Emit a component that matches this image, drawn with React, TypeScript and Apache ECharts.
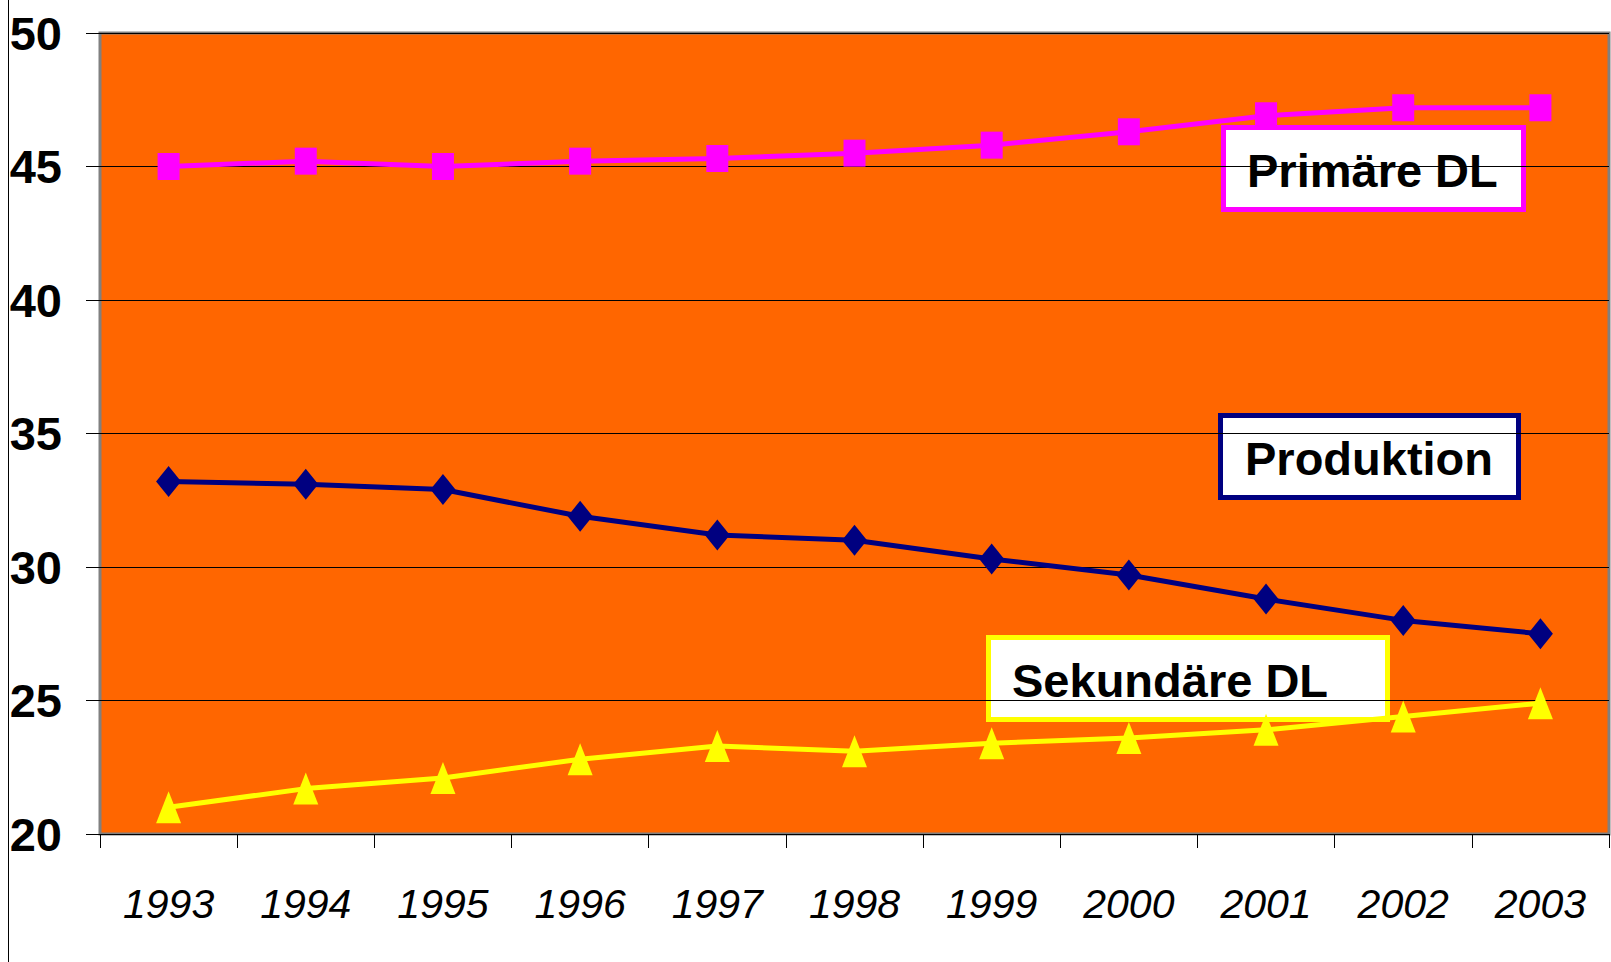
import React, { useEffect, useRef } from "react";
import * as echarts from "echarts";

const years = ["1993", "1994", "1995", "1996", "1997", "1998", "1999", "2000", "2001", "2002", "2003"];
const primaere = [45.0, 45.2, 45.0, 45.2, 45.3, 45.5, 45.8, 46.3, 46.9, 47.2, 47.2];
const produktion = [33.2, 33.1, 32.9, 31.9, 31.2, 31.0, 30.3, 29.7, 28.8, 28.0, 27.5];
const sekundaere = [21.0, 21.7, 22.1, 22.8, 23.3, 23.1, 23.4, 23.6, 23.9, 24.4, 24.9];
const yMin = 20;
const yMax = 50;
const yStep = 5;

const SANS = '"Liberation Sans", Arial, sans-serif';

export default function App() {
  const ref = useRef<HTMLDivElement>(null);
  useEffect(() => {
    if (!ref.current) return;
    const chart = echarts.init(ref.current, undefined, { renderer: "svg" });
    const box = (x: number, y: number, w: number, h: number, color: string, text: string, tx: number) => ({
      type: "group",
      children: [
        { type: "rect", shape: { x, y, width: w, height: h }, style: { fill: "#fff", stroke: color, lineWidth: 5 } },
        {
          type: "text",
          x: tx,
          y: y + h / 2 + 2,
          style: { text, font: `bold 47px ${SANS}`, fill: "#000", verticalAlign: "middle", align: "left" },
        },
      ],
    });
    chart.setOption({
      animation: false,
      backgroundColor: "#fff",
      grid: {
        left: 100,
        right: 2,
        top: 33,
        bottom: 128,
        show: true,
        backgroundColor: "#FF6600",
        borderColor: "#808080",
        borderWidth: 3,
      },
      xAxis: {
        type: "category",
        data: years,
        boundaryGap: true,
        axisLine: { show: false },
        axisTick: { show: true, length: 14, lineStyle: { color: "#000", width: 1 } },
        axisLabel: {
          interval: 0,
          margin: 49,
          color: "#000",
          fontFamily: SANS,
          fontStyle: "italic",
          fontSize: 41,
        },
      },
      yAxis: {
        type: "value",
        min: yMin,
        max: yMax,
        interval: yStep,
        axisLine: { show: false },
        axisTick: { show: true, length: 14, lineStyle: { color: "#000", width: 1 } },
        splitLine: { show: true, lineStyle: { color: "#000", width: 1 } },
        axisLabel: {
          margin: 38,
          color: "#000",
          fontFamily: SANS,
          fontWeight: "bold",
          fontSize: 47,
        },
      },
      series: [
        {
          name: "Primäre DL",
          type: "line",
          data: primaere,
          symbol: "rect",
          symbolSize: [22, 27],
          lineStyle: { color: "#FF00FF", width: 5 },
          itemStyle: { color: "#FF00FF" },
        },
        {
          name: "Produktion",
          type: "line",
          data: produktion,
          symbol: "diamond",
          symbolSize: [25, 31],
          lineStyle: { color: "#000080", width: 5 },
          itemStyle: { color: "#000080" },
        },
        {
          name: "Sekundäre DL",
          type: "line",
          data: sekundaere,
          symbol: "triangle",
          symbolSize: [25, 32],
          lineStyle: { color: "#FFFF00", width: 5 },
          itemStyle: { color: "#FFFF00" },
        },
      ],
      graphic: [
        { type: "line", shape: { x1: 8.5, y1: 0, x2: 8.5, y2: 962 }, style: { stroke: "#000", lineWidth: 1 } },
        box(1223.5, 127.5, 300, 82, "#FF00FF", "Primäre DL", 1247),
        box(1220.5, 415.5, 298, 82, "#000080", "Produktion", 1245),
        box(988.5, 637.5, 399, 82, "#FFFF00", "Sekundäre DL", 1012),
      ],
    });
    return () => chart.dispose();
  }, []);
  return <div ref={ref} style={{ position: "fixed", left: 0, top: 0, width: 1611, height: 962 }} />;
}
